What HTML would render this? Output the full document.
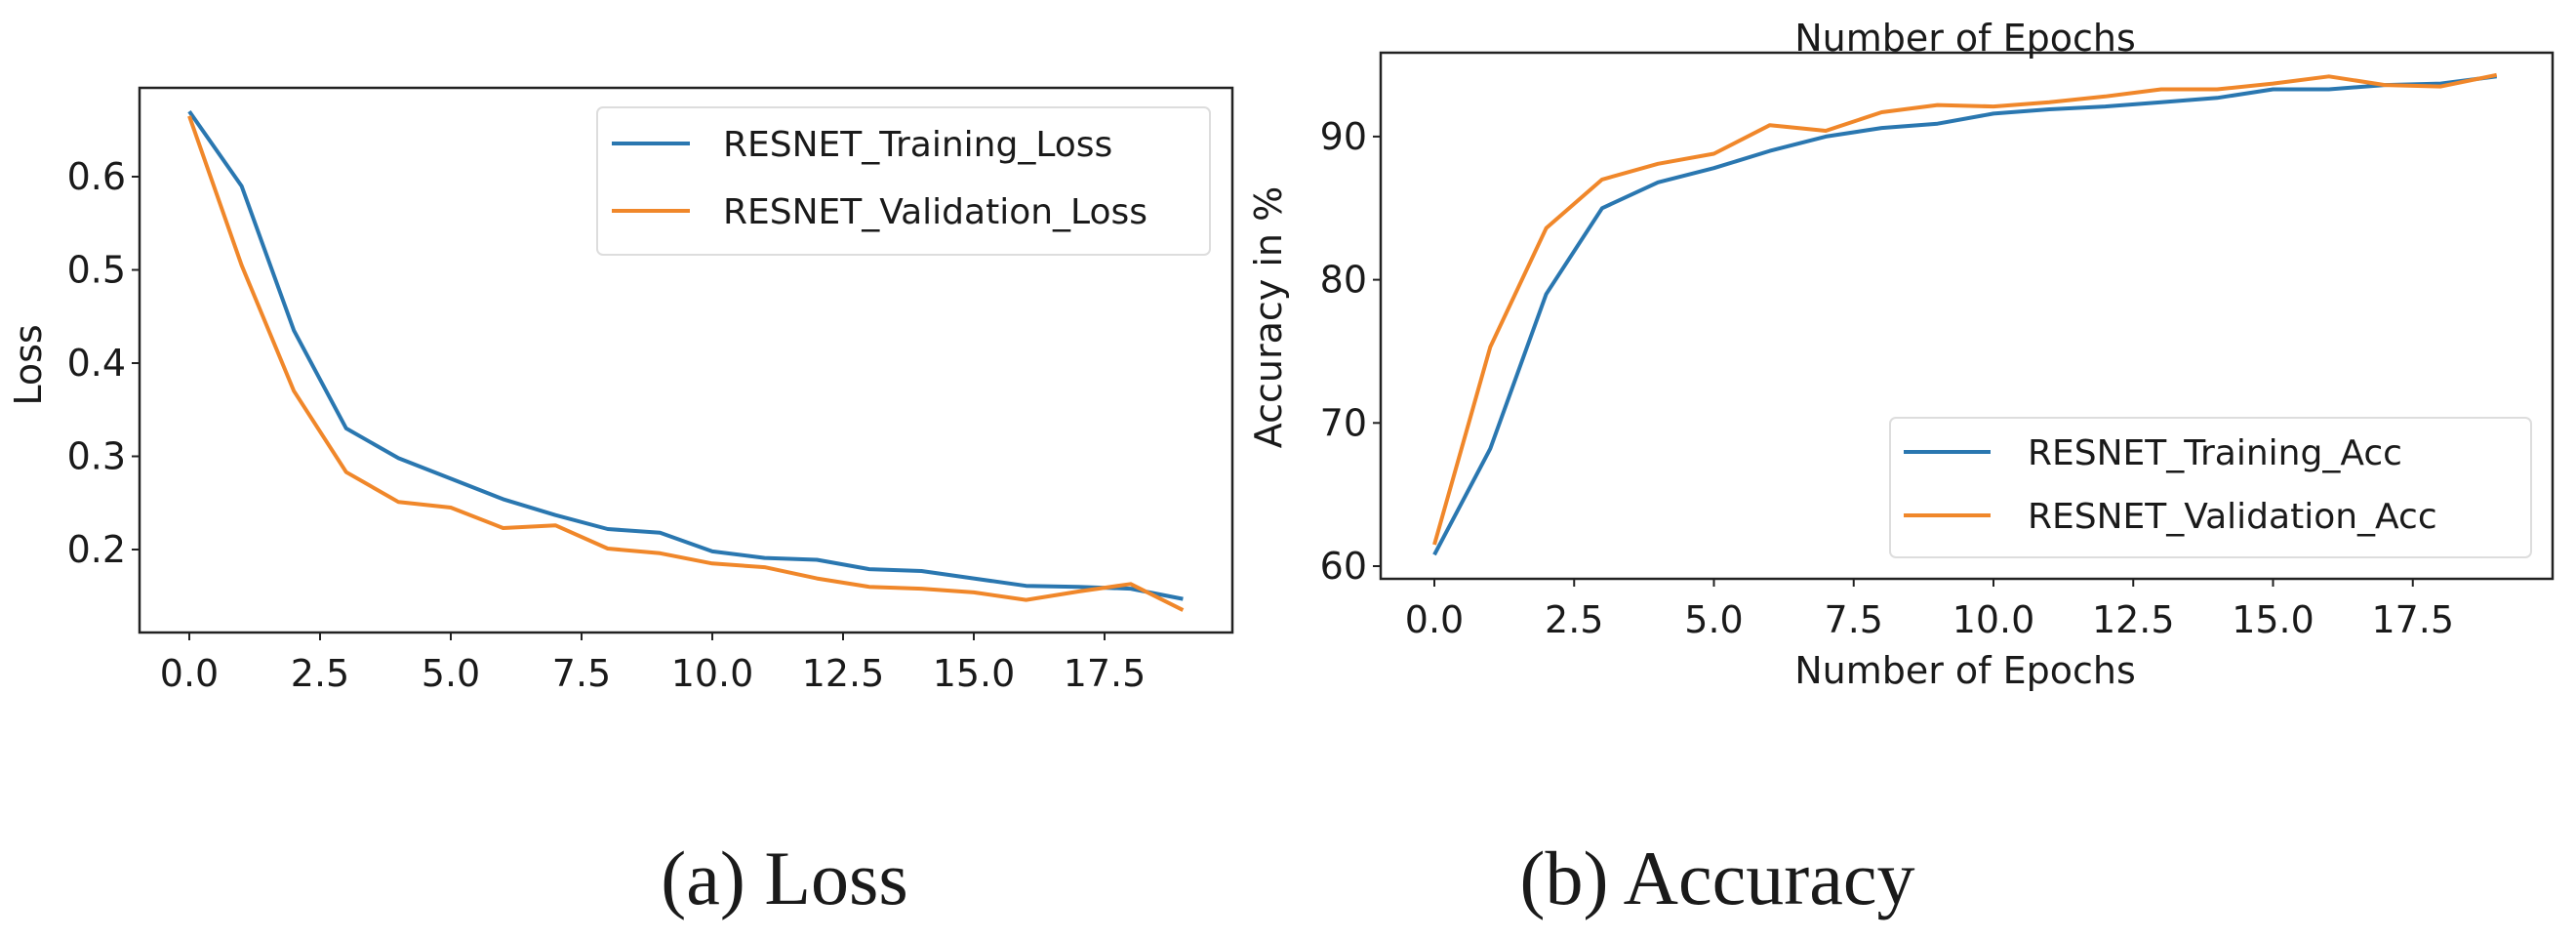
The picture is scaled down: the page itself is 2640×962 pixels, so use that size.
<!DOCTYPE html>
<html><head><meta charset="utf-8"><style>
html,body{margin:0;padding:0;background:#fff;}
svg{display:block;}
text{font-family:"DejaVu Sans","Liberation Sans",sans-serif;fill:#1a1a1a;}
.cap{font-family:"Liberation Serif",serif;font-size:78px;}
</style></head><body>
<svg id="fig" width="2640" height="962" viewBox="0 0 2640 962" xmlns="http://www.w3.org/2000/svg">
<rect width="2640" height="962" fill="#fff"/>
<text class="cap" x="804" y="926" text-anchor="middle">(a) Loss</text>
<text class="cap" x="1760" y="926" text-anchor="middle">(b) Accuracy</text>
</svg>
<script>
const epochs = [0,1,2,3,4,5,6,7,8,9,10,11,12,13,14,15,16,17,18,19];
const lossTrain = [0.67,0.59,0.435,0.33,0.298,0.276,0.254,0.237,0.222,0.218,0.198,0.191,0.189,0.179,0.177,0.169,0.161,0.160,0.158,0.147];
const lossVal = [0.665,0.505,0.37,0.283,0.251,0.245,0.223,0.226,0.201,0.196,0.185,0.181,0.169,0.160,0.158,0.154,0.146,0.155,0.163,0.135];
const accTrain = [60.8,68.2,79,85,86.8,87.8,89,90,90.6,90.9,91.6,91.9,92.1,92.4,92.7,93.3,93.3,93.6,93.7,94.2];
const accVal = [61.5,75.3,83.6,87,88.1,88.8,90.8,90.4,91.7,92.2,92.1,92.4,92.8,93.3,93.3,93.7,94.2,93.6,93.5,94.3];
const xTicks = [0,2.5,5,7.5,10,12.5,15,17.5];
const lossTicks = [0.2,0.3,0.4,0.5,0.6];
const accTicks = [60,70,80,90];

const NS = "http://www.w3.org/2000/svg";
const svg = document.getElementById('fig');
function mk(tag, attrs, parent){ const e=document.createElementNS(NS,tag); for(const k in attrs) e.setAttribute(k,attrs[k]); (parent||svg).appendChild(e); return e; }

function chart(cfg){
  const g = mk('g',{});
  
  
  const sx = v => cfg.x0px + (v - 0) * cfg.xUnit;
  const sy = v => cfg.yRefPx - (v - cfg.yRef) * cfg.yUnit;
  const clipId = cfg.name + '-clip';
  const cp = mk('clipPath',{id:clipId},g);
  mk('rect',{x:cfg.L,y:cfg.T,width:cfg.R-cfg.L,height:cfg.B-cfg.T},cp);
  xTicks.forEach(t=>{
    const x = sx(t);
    const tk = mk('line',{x1:x,x2:x,y1:cfg.B,y2:cfg.B+8,stroke:'#222','stroke-width':2},g);
    
    
    const lb = mk('text',{x:x,y:cfg.B+55,'text-anchor':'middle','font-size':38},g);
    lb.textContent = t.toFixed(1);
    
    
  });
  cfg.yTicks.forEach(t=>{
    const y = sy(t);
    const tk = mk('line',{x1:cfg.L-8,x2:cfg.L,y1:y,y2:y,stroke:'#222','stroke-width':2},g);
    
    
    const lb = mk('text',{x:cfg.L-14,y:y+13,'text-anchor':'end','font-size':38},g);
    lb.textContent = cfg.fmt(t);
    
    
  });
  cfg.series.forEach(s=>{
    const pts = epochs.map((e,i)=>sx(e).toFixed(1)+','+sy(s.data[i]).toFixed(1)).join(' ');
    const pl = mk('polyline',{points:pts,fill:'none',stroke:s.color,'stroke-width':4,'stroke-linejoin':'round','clip-path':'url(#'+clipId+')'},g);
    
    
  });
  const fr = mk('rect',{x:cfg.L,y:cfg.T,width:cfg.R-cfg.L,height:cfg.B-cfg.T,fill:'none',stroke:'#222','stroke-width':2.5},g);
  
  
  const lg = mk('g',{},g);
  
  
  mk('rect',{x:cfg.leg.x,y:cfg.leg.y,width:cfg.leg.w,height:cfg.leg.h,rx:6,fill:'#fff',stroke:'#ddd','stroke-width':2},lg);
  cfg.series.forEach((s,i)=>{
    const y = cfg.leg.rows[i];
    mk('line',{x1:cfg.leg.lx1,x2:cfg.leg.lx2,y1:y,y2:y,stroke:s.color,'stroke-width':4},lg);
    const t = mk('text',{x:cfg.leg.tx,y:y+13,'font-size':36},lg);
    t.textContent = s.label;
    
    
  });
  return g;
}

chart({name:'loss-chart',L:143,R:1263,T:90,B:648,x0px:194,xUnit:53.6,yRef:0.2,yRefPx:563,yUnit:955,
  yTicks:lossTicks,fmt:t=>t.toFixed(1),
  series:[{name:'line-training-loss',label:'RESNET_Training_Loss',color:'#2a77b0',data:lossTrain},
          {name:'line-validation-loss',label:'RESNET_Validation_Loss',color:'#f0872a',data:lossVal}],
  leg:{x:612,y:110,w:628,h:151,rows:[147,216],lx1:627,lx2:707,tx:741}});

chart({name:'accuracy-chart',L:1415,R:2616,T:54,B:593,x0px:1470,xUnit:57.3,yRef:60,yRefPx:580,yUnit:14.67,
  yTicks:accTicks,fmt:t=>String(t),
  series:[{name:'line-training-acc',label:'RESNET_Training_Acc',color:'#2a77b0',data:accTrain},
          {name:'line-validation-acc',label:'RESNET_Validation_Acc',color:'#f0872a',data:accVal}],
  leg:{x:1937,y:428,w:657,h:143,rows:[463,528],lx1:1951,lx2:2040,tx:2078}});

function txt(s,attrs,name){ const t=mk('text',attrs); t.textContent=s;   return t; }
txt('Loss',{x:0,y:0,'font-size':38,'text-anchor':'middle',transform:'translate(42,374) rotate(-90)'},'y-axis-title-loss');
txt('Accuracy in %',{x:0,y:0,'font-size':38,'text-anchor':'middle',transform:'translate(1313,325) rotate(-90)'},'y-axis-title-accuracy');
txt('Number of Epochs',{x:2014,y:700,'font-size':38,'text-anchor':'middle'},'x-axis-title');
txt('Number of Epochs',{x:2014,y:52,'font-size':38,'text-anchor':'middle'},'chart-title');
</script>
</body></html>
